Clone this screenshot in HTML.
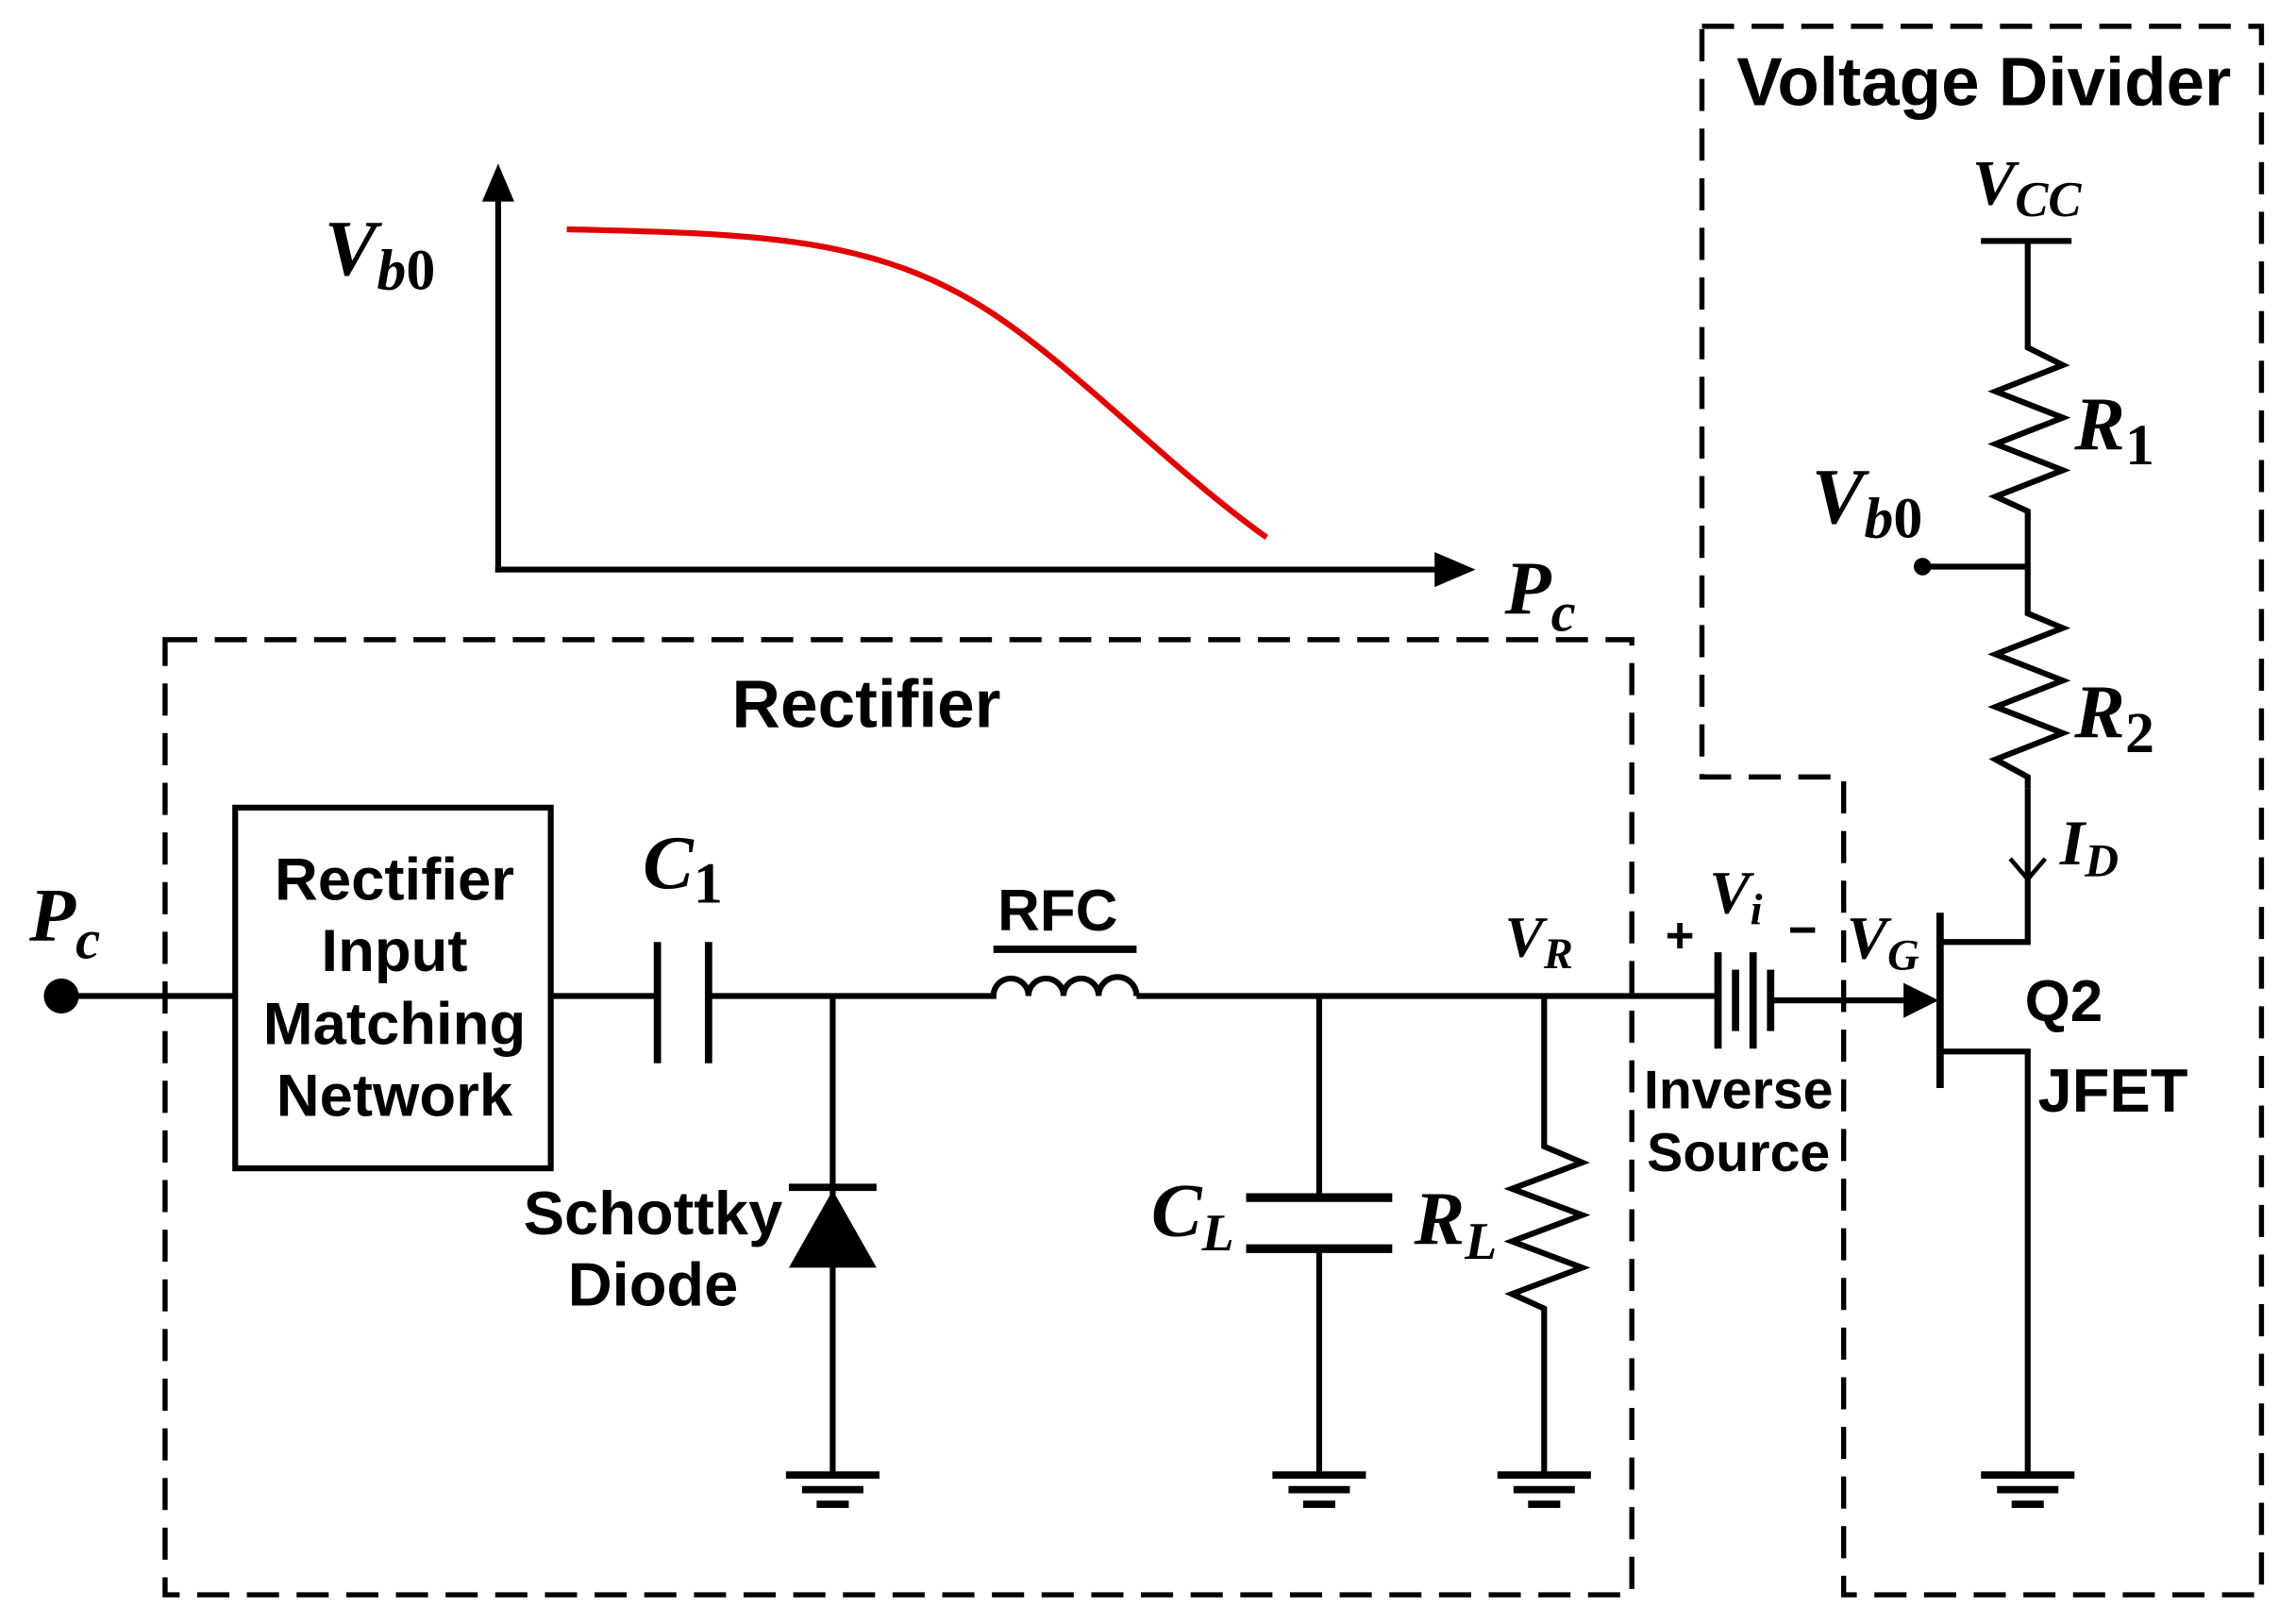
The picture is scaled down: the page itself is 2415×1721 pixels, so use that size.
<!DOCTYPE html>
<html><head><meta charset="utf-8"><style>
html,body{margin:0;padding:0;background:#fff;}
svg{display:block}
.s{font-family:"Liberation Sans",sans-serif;font-weight:bold;fill:#000}
.m{font-family:"Liberation Serif",serif;font-weight:bold;font-style:italic;fill:#000}
.u{font-style:normal}
</style></head><body>
<svg width="2415" height="1721" viewBox="0 0 1560 1112" preserveAspectRatio="none" xmlns="http://www.w3.org/2000/svg">
<defs>
<g id="gnd" stroke="#000" stroke-width="5"><line x1="-32" y1="0" x2="32" y2="0"/><line x1="-21" y1="10" x2="21" y2="10"/><line x1="-11" y1="20" x2="11" y2="20"/></g>
</defs>
<g fill="none" stroke="#000" stroke-width="4">
<line x1="341" y1="392" x2="341" y2="130"/>
<line x1="339" y1="390" x2="990" y2="390"/>
<path d="M388,157 C520,160 600,162 680,215 C740,255 800,320 867,368" stroke="#e00000" stroke-width="4"/>
<g stroke-dasharray="22,12" stroke-width="3.5">
<rect x="113" y="438" width="1004" height="654"/>
<path d="M1165,18 L1548,18 L1548,1092 L1262,1092 L1262,532 L1165,532 Z"/>
</g>
<line x1="42" y1="682" x2="161" y2="682"/>
<rect x="161" y="553" width="216" height="247"/>
<line x1="377" y1="682" x2="450" y2="682"/>
<line x1="450" y1="645" x2="450" y2="728" stroke-width="5"/>
<line x1="485" y1="645" x2="485" y2="728" stroke-width="5"/>
<line x1="485" y1="682" x2="682" y2="682"/>
<line x1="570" y1="682" x2="570" y2="1010"/>
<line x1="540" y1="813" x2="600" y2="813" stroke-width="5"/>
<path d="M680,682 a12,12 0 0 1 24,0 a12,12 0 0 1 24,0 a12,12 0 0 1 24,0 a12,12 0 0 1 26,0"/>
<line x1="680" y1="650" x2="778" y2="650" stroke-width="5"/>
<line x1="778" y1="682" x2="1176" y2="682"/>
<line x1="903" y1="682" x2="903" y2="820"/>
<line x1="853" y1="820" x2="953" y2="820" stroke-width="6"/>
<line x1="853" y1="855" x2="953" y2="855" stroke-width="6"/>
<line x1="903" y1="855" x2="903" y2="1010"/>
<path d="M1057,682 L1057,785 L1083,796 L1035,814 L1083,832 L1035,850 L1083,868 L1035,886 L1057,896 L1057,1010"/>
<line x1="1176" y1="652" x2="1176" y2="718" stroke-width="5"/>
<line x1="1188" y1="664" x2="1188" y2="706" stroke-width="5"/>
<line x1="1200" y1="652" x2="1200" y2="718" stroke-width="5"/>
<line x1="1212" y1="664" x2="1212" y2="706" stroke-width="5"/>
<line x1="1212" y1="685" x2="1310" y2="685"/>
<line x1="1328" y1="625" x2="1328" y2="745" stroke-width="5"/>
<path d="M1328,645 L1388,645 L1388,540"/>
<path d="M1328,720 L1388,720 L1388,1010"/>
<path d="M1388,540 L1388,532 L1366,520 L1412,502 L1366,484 L1412,466 L1366,448 L1412,430 L1388,420 L1388,350 L1366,340 L1412,322 L1366,304 L1412,286 L1366,268 L1412,250 L1388,238 L1388,165"/>
<line x1="1356" y1="165" x2="1418" y2="165"/>
<line x1="1316" y1="388" x2="1388" y2="388"/>
<path d="M1376,588 L1388,602 L1400,588" stroke-width="3"/>
</g>
<polygon points="341,112 330,138 352,138"/>
<polygon points="1010,390 982,378 982,402"/>
<polygon points="1327,685 1303,673 1303,697"/>
<polygon points="540,868 600,868 570,815"/>
<circle cx="42" cy="682" r="12"/>
<circle cx="1316" cy="388" r="6"/>
<use href="#gnd" x="570" y="1010"/>
<use href="#gnd" x="903" y="1010"/>
<use href="#gnd" x="1057" y="1010"/>
<use href="#gnd" x="1388" y="1010"/>
<text class="m" x="222" y="188" font-size="54">V<tspan font-size="40" dy="10">b<tspan class="u">0</tspan></tspan></text>
<text class="m" x="1030" y="420" font-size="52">P<tspan font-size="38" dy="12">c</tspan></text>
<text class="m" x="20" y="644" font-size="52">P<tspan font-size="38" dy="12">c</tspan></text>
<text class="s" x="593" y="498" font-size="46" text-anchor="middle">Rectifier</text>
<text class="s" x="1358" y="72" font-size="47" text-anchor="middle">Voltage Divider</text>
<g class="s" font-size="41" text-anchor="middle">
<text x="270" y="616">Rectifier</text>
<text x="270" y="665">Input</text>
<text x="270" y="715">Matching</text>
<text x="270" y="764">Network</text>
<text x="447" y="845" font-size="42">Schottky</text>
<text x="447" y="894" font-size="42">Diode</text>
<text x="724" y="637" font-size="40">RFC</text>
<text x="1190" y="759" font-size="37">Inverse</text>
<text x="1190" y="802" font-size="37">Source</text>
</g>
<text class="s" x="1386" y="699" font-size="40">Q2</text>
<text class="s" x="1395" y="761" font-size="42">JFET</text>
<text class="m" x="440" y="608" font-size="52">C<tspan class="u" font-size="40" dy="10">1</tspan></text>
<text class="m" x="788" y="846" font-size="52">C<tspan font-size="36" dy="10">L</tspan></text>
<text class="m" x="968" y="852" font-size="52">R<tspan font-size="36" dy="10">L</tspan></text>
<text class="m" x="1030" y="655" font-size="40">V<tspan font-size="30" dy="8">R</tspan></text>
<text class="m" x="1170" y="625" font-size="42">V<tspan font-size="30" dy="8">i</tspan></text>
<text class="s" x="1140" y="652" font-size="34">+</text>
<text class="s" x="1224" y="648" font-size="34">−</text>
<text class="m" x="1264" y="656" font-size="42">V<tspan font-size="30" dy="8">G</tspan></text>
<text class="m" x="1350" y="140" font-size="44">V<tspan font-size="34" dy="8">CC</tspan></text>
<text class="m" x="1420" y="308" font-size="52">R<tspan class="u" font-size="40" dy="10">1</tspan></text>
<text class="m" x="1420" y="505" font-size="52">R<tspan class="u" font-size="40" dy="10">2</tspan></text>
<text class="m" x="1240" y="358" font-size="54">V<tspan font-size="40" dy="10">b<tspan class="u">0</tspan></tspan></text>
<text class="m" x="1410" y="592" font-size="44">I<tspan font-size="32" dy="8">D</tspan></text>
</svg>
</body></html>
